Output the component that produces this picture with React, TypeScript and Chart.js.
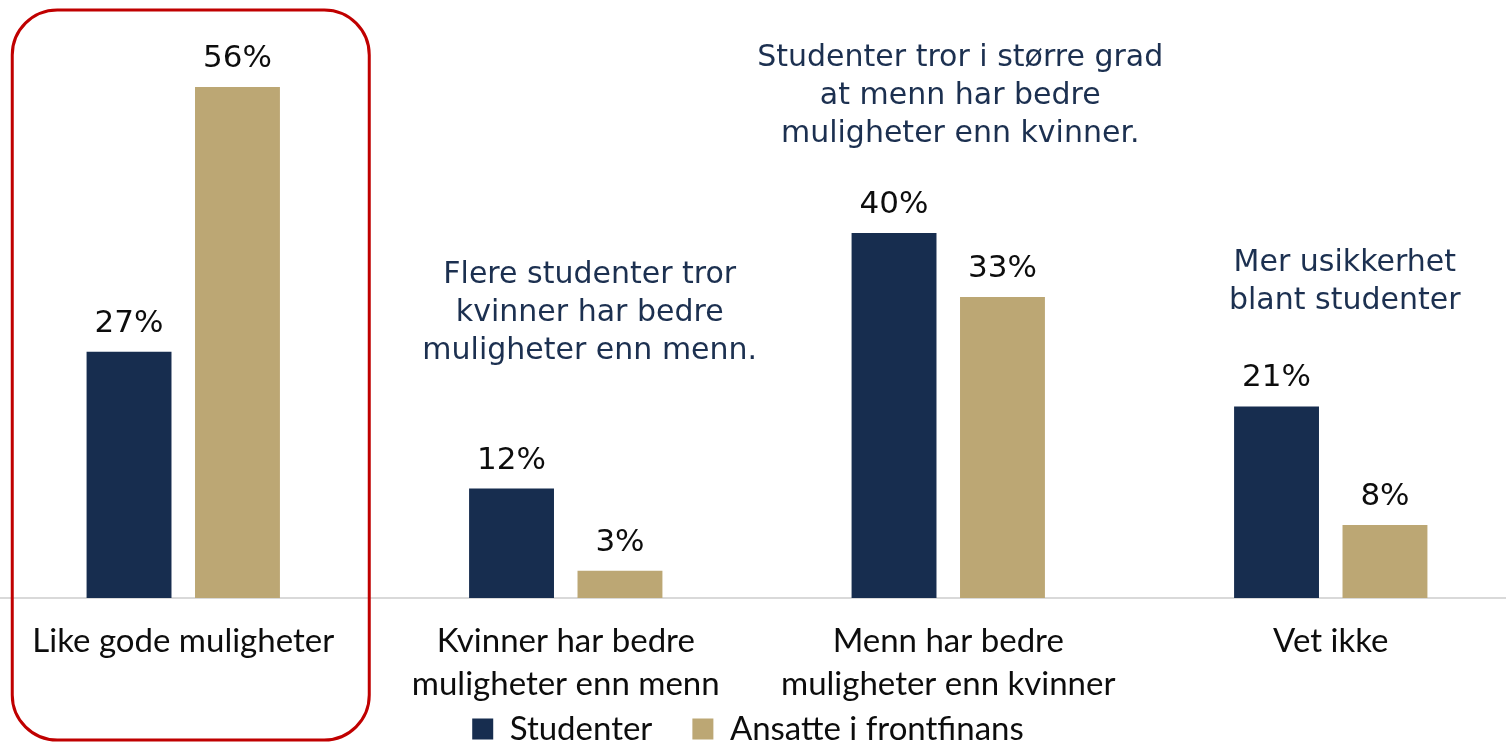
import React, { useEffect, useRef } from "react";
import { Chart, registerables } from "chart.js";

Chart.register(...registerables);

const categories: string[][] = [
  ["Like gode muligheter"],
  ["Kvinner har bedre", "muligheter enn menn"],
  ["Menn har bedre", "muligheter enn kvinner"],
  ["Vet ikke"],
];
const studenter: number[] = [27, 12, 40, 21];
const ansatte: number[] = [56, 3, 33, 8];
const seriesNames: string[] = ["Studenter", "Ansatte i frontfinans"];
const annotations: string[][] = [
  [],
  ["Flere studenter tror", "kvinner har bedre", "muligheter enn menn."],
  ["Studenter tror i større grad", "at menn har bedre", "muligheter enn kvinner."],
  ["Mer usikkerhet", "blant studenter"],
];

// text placement (not data): first-line anchor in y-axis units and x offset in px
const ANNOT_Y: number[] = [0, 35.4, 59.2, 36.7];
const ANNOT_DX: number[] = [0, 24, 12, 14];

const NAVY = "#172d4f";
const TAN = "#bca774";
const TEXT_NAVY = "#1c3050";
const LABEL_FONT = "Lato, 'Noto Sans', sans-serif";
const NOTE_FONT = "'DejaVu Sans', Lato, sans-serif";

const AXIS_H = 115;
const LEGEND_PAD = 40;
const LEGEND_FONT = 33;
const LEGEND_H = LEGEND_FONT + LEGEND_PAD + 10;
const PLOT_BOTTOM = 598;
const CANVAS_W = 1530;
const CANVAS_H = 745;

const dataLabelPlugin = {
  id: "dataLabels",
  afterDatasetsDraw(chart: any) {
    const ctx = chart.ctx;
    ctx.save();
    ctx.font = `31px ${NOTE_FONT}`;
    ctx.fillStyle = "#0d0d0d";
    ctx.textAlign = "center";
    ctx.textBaseline = "alphabetic";
    chart.data.datasets.forEach((ds: any, di: number) => {
      const meta = chart.getDatasetMeta(di);
      meta.data.forEach((bar: any, i: number) => {
        ctx.fillText(`${ds.data[i]}%`, bar.x, bar.y - 20);
      });
    });
    ctx.restore();
  },
};

const annotationPlugin = {
  id: "annotations",
  afterDraw(chart: any) {
    const ctx = chart.ctx;
    const xs = chart.scales.x;
    const ys = chart.scales.y;
    ctx.save();
    ctx.font = `30px ${NOTE_FONT}`;
    ctx.fillStyle = TEXT_NAVY;
    ctx.textAlign = "center";
    ctx.textBaseline = "middle";
    annotations.forEach((lines, i) => {
      if (!lines.length) return;
      const cx = xs.getPixelForValue(i) + ANNOT_DX[i];
      const y0 = ys.getPixelForValue(ANNOT_Y[i]);
      lines.forEach((ln, k) => ctx.fillText(ln, cx, y0 + k * 38));
    });
    // highlight frame around the first category
    const c0 = xs.getPixelForValue(0);
    const left = c0 - 171;
    const right = c0 + 186;
    const top = chart.chartArea.top - 4;
    const bottom = chart.height - 5;
    ctx.strokeStyle = "#c00000";
    ctx.lineWidth = 3;
    ctx.beginPath();
    ctx.roundRect(left, top, right - left, bottom - top, 45);
    ctx.stroke();
    ctx.restore();
  },
};

const legendShiftPlugin = {
  id: "legendShift",
  afterLayout(chart: any) {
    const lg = chart.legend;
    if (!lg) return;
    const dx = -9;
    const cur = lg.top + LEGEND_PAD + LEGEND_FONT / 2;
    const dy = 729 - cur;
    lg.left += dx;
    lg.right += dx;
    lg.top += dy;
    lg.bottom += dy;
  },
};

export default function App() {
  const ref = useRef<HTMLCanvasElement | null>(null);
  useEffect(() => {
    if (!ref.current) return;
    const chart = new Chart(ref.current, {
      type: "bar",
      data: {
        labels: categories,
        datasets: [
          {
            label: seriesNames[0],
            data: studenter,
            backgroundColor: NAVY,
            categoryPercentage: 0.567,
            barPercentage: 0.783,
          },
          {
            label: seriesNames[1],
            data: ansatte,
            backgroundColor: TAN,
            categoryPercentage: 0.567,
            barPercentage: 0.783,
          },
        ],
      },
      options: {
        animation: false,
        responsive: false,
        maintainAspectRatio: false,
        layout: {
          padding: {
            top: 14,
            bottom: CANVAS_H - PLOT_BOTTOM - LEGEND_H - AXIS_H,
            left: 0,
            right: 0,
          },
        },
        plugins: {
          legend: {
            position: "bottom",
            labels: {
              boxWidth: 21,
              boxHeight: 21,
              padding: LEGEND_PAD,
              color: "#0d0d0d",
              font: { family: LABEL_FONT, size: LEGEND_FONT },
            },
          },
          tooltip: { enabled: false },
        },
        scales: {
          x: {
            grid: { display: false, drawTicks: false },
            border: { display: true, color: "#d9d9d9", width: 2 },
            ticks: {
              color: "#0d0d0d",
              padding: 22,
              maxRotation: 0,
              autoSkip: false,
              font: { family: LABEL_FONT, size: 33, lineHeight: 1.3 },
            },
            afterFit(scale: any) {
              scale.height = AXIS_H;
            },
          },
          y: {
            display: false,
            min: 0,
            max: 64,
          },
        },
      },
      plugins: [dataLabelPlugin, annotationPlugin, legendShiftPlugin],
    });
    return () => chart.destroy();
  }, []);
  return (
    <div
      style={{
        position: "fixed",
        left: 0,
        top: 0,
        width: 1506,
        height: 745,
        overflow: "hidden",
        background: "#ffffff",
      }}
    >
      <div style={{ position: "absolute", left: -8, top: 0, width: CANVAS_W, height: CANVAS_H }}>
        <canvas
          ref={ref}
          width={CANVAS_W}
          height={CANVAS_H}
          style={{ width: CANVAS_W, height: CANVAS_H }}
        />
      </div>
    </div>
  );
}
